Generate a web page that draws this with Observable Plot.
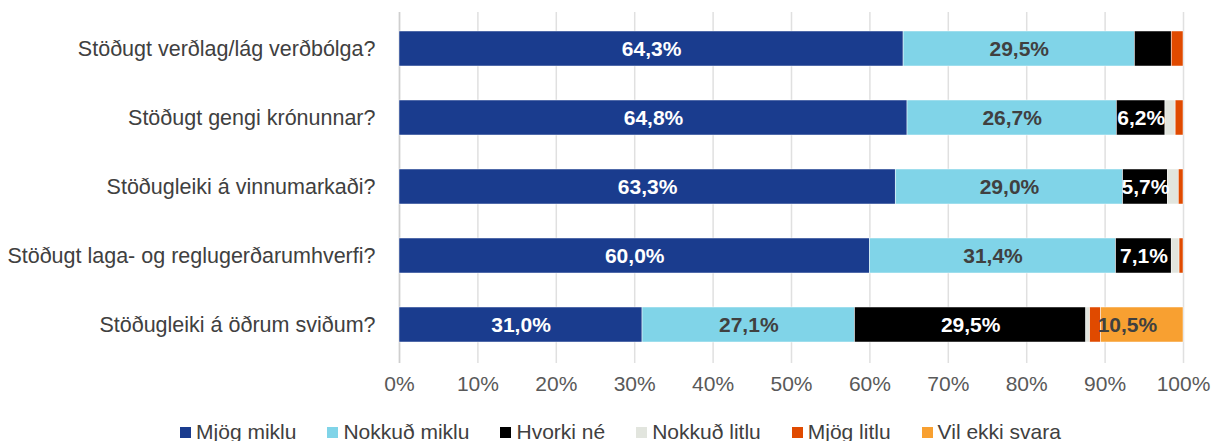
<!DOCTYPE html>
<html>
<head>
<meta charset="utf-8">
<script src="https://cdn.jsdelivr.net/npm/d3@7"></script>
<script src="https://cdn.jsdelivr.net/npm/@observablehq/plot@0.6"></script>
<style>
  body { margin: 0; background: #fff; font-family: "Liberation Sans", Arial, sans-serif; }
  #legend { display: flex; justify-content: center; gap: 31px; font-size: 21px; color: #404040; height: 36px; margin-top: 9px; align-items: center; margin-left: 30px; }
  #legend span.item { display: flex; align-items: center; }
  #legend span.sw { width: 11px; height: 11px; display: inline-block; margin-right: 5px; }
</style>
</head>
<body>
<div id="chart"></div>
<div id="legend"></div>
<script>
const categories = [
  "Stöðugt verðlag/lág verðbólga?",
  "Stöðugt gengi krónunnar?",
  "Stöðugleiki á vinnumarkaði?",
  "Stöðugt laga- og reglugerðarumhverfi?",
  "Stöðugleiki á öðrum sviðum?"
];
const seriesNames = ["Mjög miklu", "Nokkuð miklu", "Hvorki né", "Nokkuð litlu", "Mjög litlu", "Vil ekki svara"];
const seriesColors = ["#1A3C8E", "#80D4E8", "#000000", "#E2E5DE", "#E04A00", "#F8A031"];
const labelColors = ["#ffffff", "#404040", "#ffffff", "#404040", "#ffffff", "#404040"];
const mjogMiklu = [64.3, 64.8, 63.3, 60.0, 31.0];
const nokkudMiklu = [29.5, 26.7, 29.0, 31.4, 27.1];
const hvorkiNe = [4.7, 6.2, 5.7, 7.1, 29.5];
const nokkudLitlu = [0.0, 1.3, 1.4, 1.0, 0.5];
const mjogLitlu = [1.5, 1.0, 0.6, 0.5, 1.4];
const vilEkkiSvara = [0.0, 0.0, 0.0, 0.0, 10.5];
const xTicks = [0, 10, 20, 30, 40, 50, 60, 70, 80, 90, 100];

const seriesValues = [mjogMiklu, nokkudMiklu, hvorkiNe, nokkudLitlu, mjogLitlu, vilEkkiSvara];
const data = [];
categories.forEach((c, i) => {
  seriesNames.forEach((s, j) => {
    data.push({cat: c, series: s, idx: j, value: seriesValues[j][i]});
  });
});
const fmt = v => v.toFixed(1).replace(".", ",") + "%";

const chart = Plot.plot({
  width: 1211,
  height: 405,
  marginLeft: 399,
  marginRight: 28,
  marginTop: 12,
  marginBottom: 45,
  style: {fontFamily: "'Liberation Sans', Arial, sans-serif", background: "#fff"},
  x: {domain: [0, 100]},
  y: {domain: categories, paddingInner: 0.5, paddingOuter: 0.25},
  color: {domain: seriesNames, range: seriesColors},
  marks: [
    Plot.ruleX(xTicks, {x: d => d, stroke: "#e0e0e0", strokeWidth: 1.5, insetBottom: -3}),
    Plot.ruleX([0], {stroke: "#cfcfcf", strokeWidth: 1.5, insetBottom: -3}),
    Plot.barX(data, {x: "value", y: "cat", fill: "series", order: seriesNames, stroke: "#ffffff", strokeWidth: 0.6, strokeOpacity: 0.8}),
    Plot.text(data, Plot.stackX({
      x: "value", y: "cat", z: "series", order: seriesNames,
      filter: d => d.value >= 5,
      text: d => fmt(d.value),
      fill: d => labelColors[d.idx],
      fontSize: 21, fontWeight: "bold"
    })),
    Plot.axisY({tickSize: 0, tickPadding: 24, fontSize: 21.5, fill: "#404040", label: null}),
    Plot.axisX({ticks: xTicks, tickSize: 0, tickPadding: 16, fontSize: 21, fill: "#595959", tickFormat: d => d + "%", label: null})
  ]
});
document.getElementById("chart").appendChild(chart);

const legend = document.getElementById("legend");
seriesNames.forEach((s, j) => {
  const item = document.createElement("span");
  item.className = "item";
  const sw = document.createElement("span");
  sw.className = "sw";
  sw.style.background = seriesColors[j];
  item.appendChild(sw);
  item.appendChild(document.createTextNode(s));
  legend.appendChild(item);
});
</script>
</body>
</html>
